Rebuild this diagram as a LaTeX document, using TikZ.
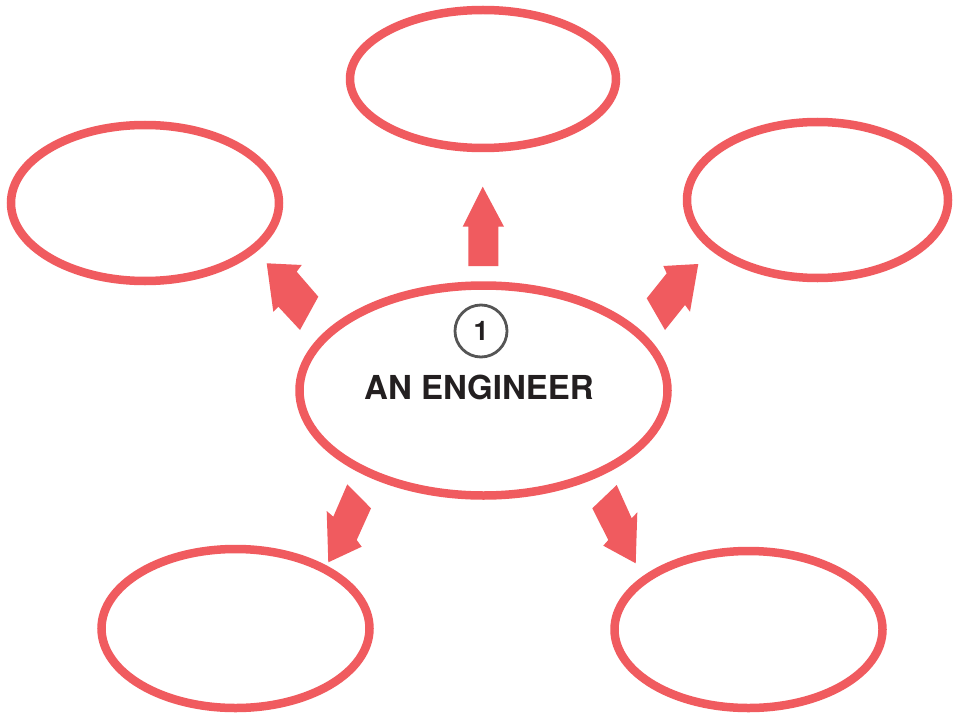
\documentclass[tikz,border=0pt]{standalone}
\usepackage{fontspec}
\setmainfont{TeX Gyre Heros}
\usetikzlibrary{shapes.geometric}
\definecolor{mapred}{RGB}{240,91,95}
\definecolor{inkgray}{RGB}{85,85,85}
\definecolor{inkdark}{RGB}{35,31,32}
\tikzset{
  bubble/.style={ellipse, draw=mapred, line width=8.5pt, inner sep=0pt, fill=white},
  blockarrow/.style={fill=mapred, draw=none},
  numcircle/.style={circle, draw=inkgray, line width=2.8pt, minimum size=52pt, inner sep=0pt},
}
\begin{document}
\begin{tikzpicture}[x=1pt,y=-1pt]
\useasboundingbox[fill=white] (0,0) rectangle (957,714);
% bubbles
\node[bubble, minimum width=266pt, minimum height=138pt] (top) at (483,79) {};
\node[bubble, minimum width=268pt, minimum height=156pt] (left) at (145,203) {};
\node[bubble, minimum width=261pt, minimum height=156pt] (right) at (817.5,200) {};
\node[bubble, minimum width=368pt, minimum height=210pt] (center) at (483.5,390.5) {};
\node[bubble, minimum width=268pt, minimum height=159pt] (bl) at (235.5,628.5) {};
\node[bubble, minimum width=268pt, minimum height=157pt] (br) at (748.5,629.5) {};
% block arrows
\fill[blockarrow] (468.3,266) -- (468.3,226.7) -- (462.7,226.7) -- (482.7,186.7) -- (504,226.7) -- (498.3,226.7) -- (498.3,266) -- cycle;
\fill[blockarrow] (318.3,296.7) -- (296.7,271.7) -- (301.7,265) -- (266.7,263.3) -- (273.3,311.7) -- (278.3,306.7) -- (300,330) -- cycle;
\fill[blockarrow] (646.7,298.3) -- (666.7,273.3) -- (663.3,266) -- (698.3,264) -- (690,311.7) -- (685,305) -- (665,330) -- cycle;
\fill[blockarrow] (347.3,484.3) -- (333.3,516.7) -- (326.7,511) -- (328.3,562.3) -- (361.7,546.7) -- (356.7,540) -- (371,508.3) -- cycle;
\fill[blockarrow] (616.7,485) -- (631.7,518.3) -- (637.3,512.3) -- (635.7,563.3) -- (603.3,545.7) -- (608.3,540) -- (592.3,508.3) -- cycle;
% number and title
\node[numcircle] (num) at (481,331) {};
\node[anchor=base, inner sep=0pt, text=inkdark, font=\fontsize{27}{27}\selectfont\bfseries] (numtxt) at (481,340.5) {1};
\node[anchor=base, inner sep=0pt, text=inkdark, font=\fontsize{33}{33}\selectfont\bfseries] (title) at (479,399) {AN ENGINEER};
\end{tikzpicture}
\end{document}
